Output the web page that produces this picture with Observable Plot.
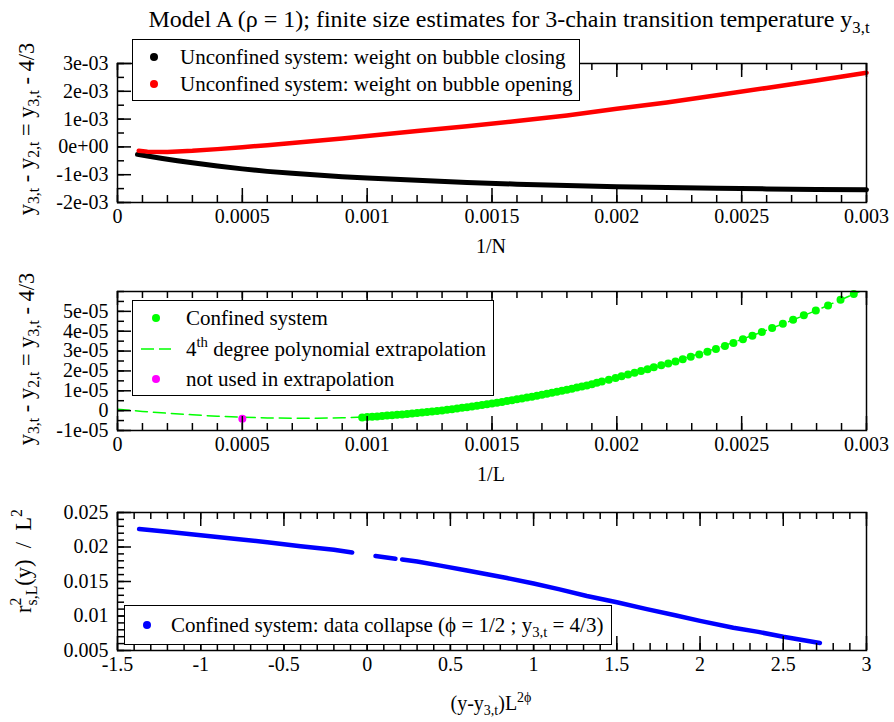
<!DOCTYPE html>
<html><head><meta charset="utf-8">
<script src="https://cdn.jsdelivr.net/npm/d3@7"></script>
<script src="https://cdn.jsdelivr.net/npm/@observablehq/plot@0.6"></script>
<style>
body{margin:0;background:#fff;}
#wrap{position:relative;width:894px;height:722px;font-family:"Liberation Serif","Times New Roman",serif;color:#000;overflow:hidden;}
#wrap svg{display:block;}
#wrap svg text{font-family:"Liberation Serif","Times New Roman",serif;}
.lab{position:absolute;white-space:nowrap;font-size:20px;line-height:1;}
.c{transform:translate(-50%,-50%);}
.r{transform:translate(-50%,-50%) rotate(-90deg);}
sub{font-size:0.7em;vertical-align:-0.35em;line-height:0;}
sup{font-size:0.7em;vertical-align:0.6em;line-height:0;}
.leg{position:absolute;background:#fff;border:1.5px solid #000;box-sizing:border-box;}
.row{position:absolute;white-space:nowrap;font-size:21px;line-height:1;transform:translateY(-50%);}
.dot{position:absolute;width:8px;height:8px;border-radius:50%;transform:translate(-50%,-50%);}
.stack{display:inline-block;position:relative;font-size:0.7em;vertical-align:-0.4em;line-height:1;}
.stack .sp{position:absolute;left:0;top:-1.05em;}
</style></head>
<body><div id="wrap"></div>
<script>
// ---------- Panel 1 data (unconfined system) ----------
const closingX = [0.00008,0.00012,0.00018,0.00024,0.0003,0.0004,0.0005,0.0006,0.0007,0.0008,0.0009,0.001,0.0012,0.0014,0.0016,0.0018,0.002,0.0022,0.0024,0.0026,0.0028,0.003];
const closingY = [-0.00027,-0.00033,-0.00042,-0.00050,-0.00057,-0.00069,-0.00079,-0.00088,-0.00095,-0.00101,-0.00107,-0.00112,-0.00120,-0.00128,-0.00134,-0.00139,-0.00143,-0.00146,-0.00149,-0.00151,-0.00153,-0.00154];
const openingX = [0.000085,0.00012,0.0002,0.0003,0.0004,0.0005,0.0006,0.0007,0.0008,0.0009,0.001,0.0012,0.0014,0.0016,0.0018,0.002,0.0022,0.0024,0.0026,0.0028,0.003];
const openingY = [-0.00014,-0.00017,-0.00018,-0.00014,-0.00008,-0.00001,0.00006,0.00014,0.00022,0.00030,0.00039,0.00057,0.00074,0.00093,0.00113,0.00137,0.00160,0.00186,0.00212,0.00239,0.00267];

// ---------- Panel 2 data (confined system) ----------
const confinedX = [0.00098,0.00100,0.00102,0.00104,0.00106,0.00108,0.00110,0.00112,0.00114,0.00116,0.00118,0.00120,0.00122,0.00124,0.00126,0.00128,0.00130,0.00132,0.00134,0.00136,0.00138,0.00140,0.00142,0.00144,0.00146,0.00148,0.00150,0.00152,0.00154,0.00156,0.00158,0.00160,0.00162,0.00164,0.00166,0.00168,0.00170,0.00172,0.00174,0.00176,0.00178,0.00180,0.00182,0.00184,0.00186,0.00188,0.00190,0.00192,0.00194,
  0.001968,0.001995,0.002019,0.002045,0.002071,0.002097,0.002123,0.002148,0.002178,0.002206,0.002235,0.002264,0.002296,0.00233,0.002363,0.002397,0.002433,0.002467,0.002505,0.002543,0.002581,0.002622,0.002665,0.002706,0.002749,0.002797,0.002846,0.002896,0.002949];
const confinedY = [-3.4e-6,-3.2e-6,-3.05e-6,-2.9e-6,-2.7e-6,-2.5e-6,-2.3e-6,-2.1e-6,-1.9e-6,-1.65e-6,-1.45e-6,-1.2e-6,-0.95e-6,-0.7e-6,-0.45e-6,-0.15e-6,0.1e-6,0.4e-6,0.75e-6,1.05e-6,1.4e-6,1.7e-6,2.1e-6,2.45e-6,2.8e-6,3.2e-6,3.6e-6,4.0e-6,4.4e-6,4.85e-6,5.25e-6,5.7e-6,6.15e-6,6.6e-6,7.05e-6,7.5e-6,8.0e-6,8.5e-6,9.0e-6,9.5e-6,10.0e-6,10.5e-6,11.0e-6,11.6e-6,12.1e-6,12.7e-6,13.3e-6,14.0e-6,14.7e-6,
  15.6e-6,16.5e-6,17.3e-6,18.2e-6,19.1e-6,20.0e-6,20.9e-6,21.8e-6,22.8e-6,23.8e-6,24.8e-6,25.9e-6,27.1e-6,28.3e-6,29.6e-6,31.0e-6,32.5e-6,34.1e-6,35.9e-6,37.7e-6,39.6e-6,41.6e-6,43.7e-6,45.8e-6,48.0e-6,50.4e-6,53.0e-6,55.8e-6,58.7e-6];
const polyX = [0,0.0001,0.0002,0.0003,0.0004,0.0005,0.0006,0.0007,0.0008,0.0009,0.001,0.0011,0.0012,0.0013,0.0014,0.0015,0.0016,0.0017,0.0018,0.0019,0.002,0.0021,0.0022,0.0023,0.0024,0.0025,0.0026,0.0027,0.0028,0.0029,0.003];
const polyY = [0.7e-6,-0.4e-6,-1.3e-6,-2.1e-6,-2.8e-6,-3.3e-6,-3.7e-6,-3.8e-6,-3.8e-6,-3.6e-6,-3.2e-6,-2.3e-6,-1.2e-6,0.1e-6,1.7e-6,3.6e-6,5.7e-6,8.0e-6,10.5e-6,13.3e-6,16.5e-6,19.9e-6,23.5e-6,27.5e-6,31.4e-6,35.9e-6,40.5e-6,45.4e-6,50.5e-6,56.0e-6,61.5e-6];
const notUsedX = [0.0005];
const notUsedY = [-4.1e-6];

// ---------- Panel 3 data (data collapse) ----------
const collapseX = [-1.37,-1.2,-1.0,-0.8,-0.6,-0.4,-0.2,-0.09, 0.05,0.17, 0.21,0.30,0.44,0.60,0.84,1.00,1.15,1.32,1.50,1.68,1.85,2.00,2.20,2.35,2.50,2.72];
const collapseY = [0.0226,0.0222,0.0217,0.0212,0.0207,0.0201,0.0196,0.0192, 0.0187,0.0183, 0.0182,0.0179,0.0173,0.0166,0.0155,0.0147,0.0139,0.0129,0.0120,0.0110,0.0101,0.0093,0.0083,0.0077,0.0070,0.0061];
const collapseSeg = [1,1,1,1,1,1,1,1, 2,2, 3,3,3,3,3,3,3,3,3,3,3,3,3,3,3,3];

// ---------- Tick values and labels ----------
const p1XMajor = [0,0.0005,0.001,0.0015,0.002,0.0025,0.003];
const p1XLabels = ["0","0.0005","0.001","0.0015","0.002","0.0025","0.003"];
const p1YMajor = [-0.002,-0.001,0,0.001,0.002,0.003];
const p1YLabels = ["-2e-03","-1e-03","0e+00","1e-03","2e-03","3e-03"];
const p2YMajor = [-0.00001,0,0.00001,0.00002,0.00003,0.00004,0.00005];
const p2YLabels = ["-1e-05","0","1e-05","2e-05","3e-05","4e-05","5e-05"];
const p3XMajor = [-1.5,-1,-0.5,0,0.5,1,1.5,2,2.5,3];
const p3XLabels = ["-1.5","-1","-0.5","0","0.5","1","1.5","2","2.5","3"];
const p3YMajor = [0.005,0.01,0.015,0.02,0.025];
const p3YLabels = ["0.005","0.01","0.015","0.02","0.025"];

const p1XMinor = d3.range(0, 31).map(i => i * 0.0001);
const p1YMinor = d3.range(-4, 7).map(i => i * 0.0005);
const p2YMinor = d3.range(-2, 13).map(i => i * 0.000005);
const p3XMinor = d3.range(-15, 31).map(i => i / 10);
const p3YMinor = d3.range(5, 26).map(i => i / 1000);

const zip = (X, Y, extra) => X.map((x, i) => ({x, y: Y[i], s: extra ? extra[i] : 0}));
const fmt = (vals, labs) => { const m = new Map(vals.map((v, i) => [v, labs[i]])); return d => m.has(d) ? m.get(d) : ""; };

const FW = 749;
function tickMarks(xMaj, xMin, yMaj, yMin, fh) {
  const s = {stroke: "#000", strokeWidth: 1.5};
  return [
    Plot.tickX(xMin, {x: d => d, insetTop: fh - 7, ...s}),
    Plot.tickX(xMin, {x: d => d, insetBottom: fh - 7, ...s}),
    Plot.tickX(xMaj, {x: d => d, insetTop: fh - 14, ...s}),
    Plot.tickX(xMaj, {x: d => d, insetBottom: fh - 14, ...s}),
    Plot.tickY(yMin, {y: d => d, insetRight: FW - 7, ...s}),
    Plot.tickY(yMaj, {y: d => d, insetRight: FW - 14, ...s})
  ];
}
const style = {fontFamily: '"Liberation Serif","Times New Roman",serif', fontSize: "20px", background: "white", color: "black", overflow: "visible"};

const p1 = Plot.plot({
  width: 894, height: 270, marginTop: 63, marginBottom: 68, marginLeft: 117, marginRight: 28, style,
  x: {domain: [0, 0.003]}, y: {domain: [-0.002, 0.003]},
  marks: [
    Plot.line(zip(closingX, closingY), {x: "x", y: "y", stroke: "#000", strokeWidth: 5, strokeLinecap: "round", strokeLinejoin: "round"}),
    Plot.line(zip(openingX, openingY), {x: "x", y: "y", stroke: "#ff0000", strokeWidth: 4.5, strokeLinecap: "round", strokeLinejoin: "round"}),
    ...tickMarks(p1XMajor, p1XMinor, p1YMajor, p1YMinor, 139),
    Plot.frame({stroke: "#000", strokeWidth: 1.5}),
    Plot.axisX({ticks: p1XMajor, tickFormat: fmt(p1XMajor, p1XLabels), tickSize: 0, tickPadding: 6, label: null}),
    Plot.axisY({ticks: p1YMajor, tickFormat: fmt(p1YMajor, p1YLabels), tickSize: 0, tickPadding: 9, label: null})
  ]
});

const p2 = Plot.plot({
  width: 894, height: 220, marginTop: 21, marginBottom: 60, marginLeft: 117, marginRight: 28, style,
  x: {domain: [0, 0.003]}, y: {domain: [-0.00001, 0.00006]},
  marks: [
    Plot.line(zip(polyX, polyY), {x: "x", y: "y", stroke: "#00ff00", strokeWidth: 1.5, strokeDasharray: "12,6", clip: true}),
    Plot.dot(zip(confinedX, confinedY), {x: "x", y: "y", r: 4, fill: "#00ff00", stroke: "none"}),
    Plot.dot(zip(notUsedX, notUsedY), {x: "x", y: "y", r: 4, fill: "#ff00ff", stroke: "none"}),
    ...tickMarks(p1XMajor, p1XMinor, p2YMajor, p2YMinor, 139),
    Plot.frame({stroke: "#000", strokeWidth: 1.5}),
    Plot.axisX({ticks: p1XMajor, tickFormat: fmt(p1XMajor, p1XLabels), tickSize: 0, tickPadding: 6, label: null}),
    Plot.axisY({ticks: p2YMajor, tickFormat: fmt(p2YMajor, p2YLabels), tickSize: 0, tickPadding: 9, label: null})
  ]
});

const p3 = Plot.plot({
  width: 894, height: 232, marginTop: 22, marginBottom: 72, marginLeft: 117, marginRight: 28, style,
  x: {domain: [-1.5, 3]}, y: {domain: [0.005, 0.025]},
  marks: [
    Plot.line(zip(collapseX, collapseY, collapseSeg), {x: "x", y: "y", z: "s", stroke: "#0000ff", strokeWidth: 4.5, strokeLinecap: "round", strokeLinejoin: "round"}),
    ...tickMarks(p3XMajor, p3XMinor, p3YMajor, p3YMinor, 138),
    Plot.frame({stroke: "#000", strokeWidth: 1.5}),
    Plot.axisX({ticks: p3XMajor, tickFormat: fmt(p3XMajor, p3XLabels), tickSize: 0, tickPadding: 6, label: null}),
    Plot.axisY({ticks: p3YMajor, tickFormat: fmt(p3YMajor, p3YLabels), tickSize: 0, tickPadding: 9, label: null})
  ]
});

const wrap = document.getElementById("wrap");
wrap.append(p1, p2, p3);

const html = `
<div class="lab c" style="left:509px;top:19px;font-size:24px;">Model A (&rho; = 1); finite size estimates for 3-chain transition temperature y<sub>3,t</sub></div>
<div class="lab r" style="left:27px;top:129px;font-size:22.5px;">y<sub>3,t</sub> - y<sub>2,t</sub> = y<sub>3,t</sub> - 4/3</div>
<div class="lab r" style="left:27px;top:359px;font-size:22.5px;">y<sub>3,t</sub> - y<sub>2,t</sub> = y<sub>3,t</sub> - 4/3</div>
<div class="lab r" style="left:27px;top:561px;font-size:22.5px;">r<span class="stack"><span class="sp">2</span>s,L</span>(y)&ensp;/&ensp;L<sup>2</sup></div>
<div class="lab c" style="left:491px;top:246px;">1/N</div>
<div class="lab c" style="left:491px;top:474px;">1/L</div>
<div class="lab c" style="left:491px;top:703px;">(y-y<sub>3,t</sub>)L<sup>2&#981;</sup></div>

<div class="leg" style="left:132px;top:39px;width:448px;height:62px;">
  <div class="dot" style="left:21px;top:17px;background:#000;"></div>
  <div class="row" style="left:47px;top:17px;">Unconfined system: weight on bubble closing</div>
  <div class="dot" style="left:21px;top:44px;background:#ff0000;"></div>
  <div class="row" style="left:47px;top:44px;">Unconfined system: weight on bubble opening</div>
</div>

<div class="leg" style="left:132px;top:300px;width:362px;height:96px;">
  <div class="dot" style="left:23px;top:17px;background:#00ff00;"></div>
  <div class="row" style="left:53px;top:17px;">Confined system</div>
  <svg style="position:absolute;left:7px;top:46px;" width="32" height="4"><line x1="1" y1="2" x2="31" y2="2" stroke="#00ff00" stroke-width="1.5" stroke-dasharray="13,5"/></svg>
  <div class="row" style="left:53px;top:48px;">4<sup>th</sup> degree polynomial extrapolation</div>
  <div class="dot" style="left:23px;top:78px;background:#ff00ff;"></div>
  <div class="row" style="left:53px;top:78px;">not used in extrapolation</div>
</div>

<div class="leg" style="left:124px;top:605px;width:488px;height:40px;">
  <div class="dot" style="left:22px;top:19px;background:#0000ff;"></div>
  <div class="row" style="left:46px;top:19px;">Confined system: data collapse (&#981; = 1/2 ; y<sub>3,t</sub> = 4/3)</div>
</div>`;
wrap.insertAdjacentHTML("beforeend", html);
</script></body></html>
